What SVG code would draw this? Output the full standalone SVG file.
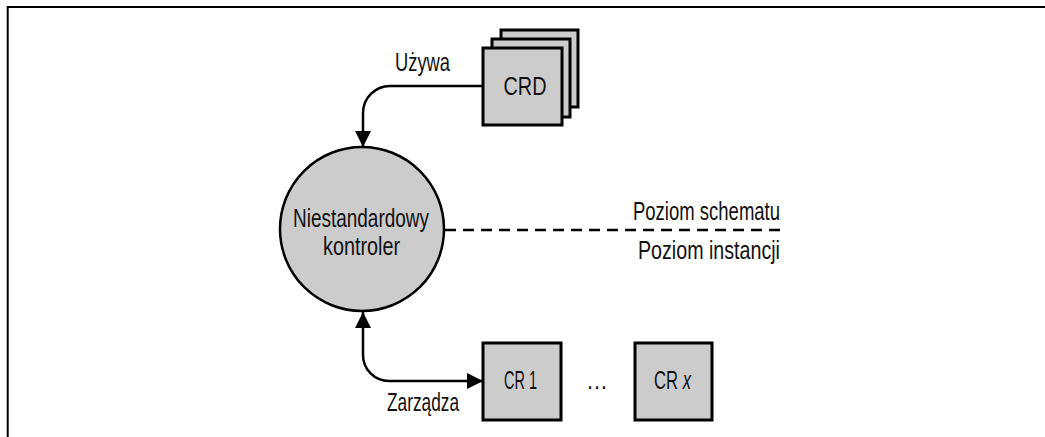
<svg xmlns="http://www.w3.org/2000/svg" width="1045" height="437" viewBox="0 0 1045 437">
  <style>
    .box { fill: #cccccc; stroke: #000; stroke-width: 3; }
    .circ { fill: #cccccc; stroke: #000; stroke-width: 2.5; }
    .conn { fill: none; stroke: #000; stroke-width: 2.5; }
    .dash { fill: none; stroke: #000; stroke-width: 2.5; stroke-dasharray: 11 7; }
    .frame { fill: none; stroke: #000; stroke-width: 2; }
    text { font-family: "Liberation Sans Narrow", "Liberation Sans", Arial, sans-serif; font-size: 25px; fill: #111; }
  </style>
  <defs>
    <marker id="arrow" markerUnits="userSpaceOnUse" markerWidth="17" markerHeight="16" refX="16" refY="8" orient="auto-start-reverse" viewBox="0 0 17 16">
      <path d="M0,0 L16,8 L0,16 z" fill="#000"/>
    </marker>
  </defs>

  <polyline class="frame" points="7.7,437 7.7,7 1045,7"/>

  <g id="connectors">
    <path class="conn" d="M483,86 H390 A27,27 0 0 0 363,113 V147" marker-end="url(#arrow)"/>
    <path class="conn" d="M363,312 V355 A26,26 0 0 0 389,381 H483" marker-start="url(#arrow)" marker-end="url(#arrow)"/>
    <line class="dash" x1="445" y1="230" x2="780" y2="230"/>
    <text x="395" y="71" textLength="55" lengthAdjust="spacingAndGlyphs">Używa</text>
    <text x="387" y="411" textLength="72" lengthAdjust="spacingAndGlyphs">Zarządza</text>
  </g>

  <g id="crd">
    <rect class="box" x="501" y="30" width="77" height="77"/>
    <rect class="box" x="492" y="39" width="78" height="78"/>
    <rect class="box" x="483" y="48" width="79" height="77"/>
    <text x="503.5" y="95" textLength="43" lengthAdjust="spacingAndGlyphs">CRD</text>
  </g>

  <g id="controller">
    <circle class="circ" cx="362" cy="229" r="82"/>
    <text x="293" y="227" textLength="136" lengthAdjust="spacingAndGlyphs">Niestandardowy</text>
    <text x="323" y="255" textLength="77" lengthAdjust="spacingAndGlyphs">kontroler</text>
  </g>

  <g id="levels">
    <text x="633" y="220" textLength="147" lengthAdjust="spacingAndGlyphs">Poziom schematu</text>
    <text x="638" y="259" textLength="142" lengthAdjust="spacingAndGlyphs">Poziom instancji</text>
  </g>

  <g id="cr1">
    <rect class="box" x="483" y="343" width="78" height="77"/>
    <text x="504" y="389" textLength="33" lengthAdjust="spacingAndGlyphs">CR 1</text>
  </g>

  <g id="ellipsis">
    <text x="586" y="389" textLength="22" lengthAdjust="spacingAndGlyphs">…</text>
  </g>

  <g id="crx">
    <rect class="box" x="635" y="343" width="77" height="77"/>
    <text x="654" y="389" textLength="37" lengthAdjust="spacingAndGlyphs">CR <tspan font-style="italic">x</tspan></text>
  </g>
</svg>
